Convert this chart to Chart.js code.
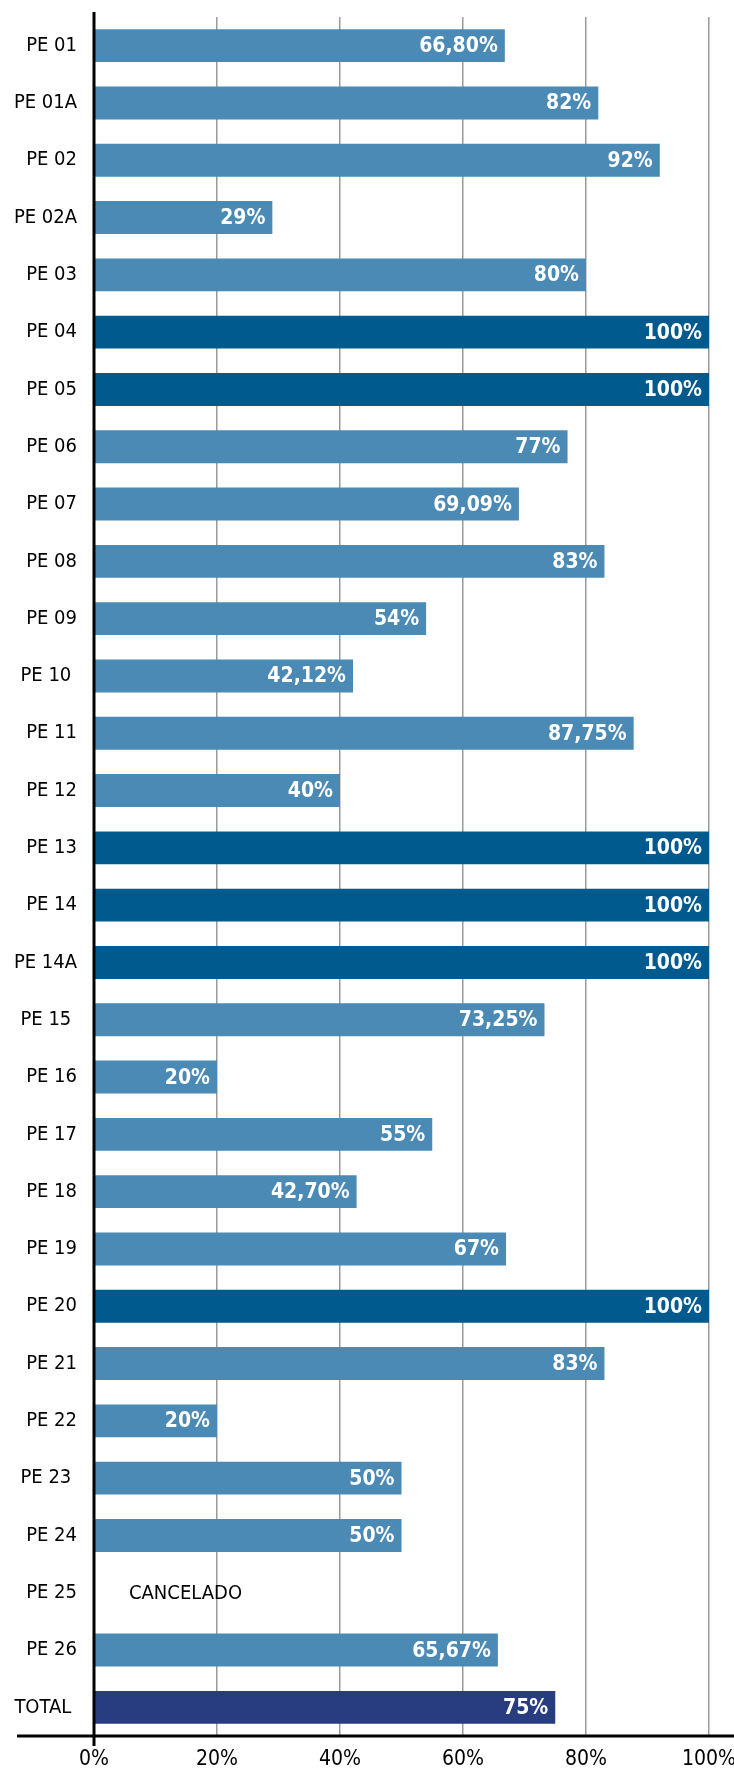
<!DOCTYPE html>
<html>
<head>
<meta charset="utf-8">
<script src="https://cdn.jsdelivr.net/npm/chart.js@4/dist/chart.umd.min.js"></script>
<style>
  html, body { margin: 0; padding: 0; background: #fff; }
  #wrap { position: relative; width: 734px; height: 1771px; }
</style>
</head>
<body>
<div id="wrap"><canvas id="chart"></canvas></div>
<script>
const categories = [
  "PE 01", "PE 01A", "PE 02", "PE 02A", "PE 03", "PE 04", "PE 05", "PE 06",
  "PE 07", "PE 08", "PE 09", "PE 10 ", "PE 11", "PE 12", "PE 13", "PE 14",
  "PE 14A", "PE 15 ", "PE 16", "PE 17", "PE 18", "PE 19", "PE 20", "PE 21",
  "PE 22", "PE 23 ", "PE 24", "PE 25", "PE 26", "TOTAL "
];
const progress = [
  66.8, 82, 92, 29, 80, 100, 100, 77,
  69.09, 83, 54, 42.12, 87.75, 40, 100, 100,
  100, 73.25, 20, 55, 42.7, 67, 100, 83,
  20, 50, 50, null, 65.67, 75
];
const xTicks = [0, 20, 40, 60, 80, 100];
const cancelledLabel = "CANCELADO";

const FONT = '"DejaVu Sans Condensed", "Liberation Sans Narrow", sans-serif';

function barColor(i) {
  if (categories[i].trim() === "TOTAL") return "#283c80";
  if (progress[i] === 100) return "#005a8e";
  return "#4a8ab5";
}

function formatPct(v) {
  return Number.isInteger(v) ? v + "%" : v.toFixed(2).replace(".", ",") + "%";
}

const overlay = {
  id: "overlay",
  afterDatasetsDraw(chart) {
    const ctx = chart.ctx;
    const meta = chart.getDatasetMeta(0);
    const xs = chart.scales.x;
    ctx.save();
    ctx.textBaseline = "middle";
    meta.data.forEach((bar, i) => {
      const v = progress[i];
      if (v == null) {
        ctx.font = "20px " + FONT;
        ctx.fillStyle = "#000";
        ctx.textAlign = "left";
        ctx.fillText(cancelledLabel, xs.getPixelForValue(0) + 35, bar.y + 1);
        return;
      }
      ctx.font = "bold 21px " + FONT;
      ctx.fillStyle = "#fff";
      ctx.textAlign = "right";
      ctx.fillText(formatPct(v), bar.x - 7, bar.y + 1);
    });
    ctx.restore();
  },
  afterDraw(chart) {
    const ctx = chart.ctx;
    const area = chart.chartArea;
    const x0 = chart.scales.x.getPixelForValue(0);
    ctx.save();
    ctx.strokeStyle = "#000";
    ctx.lineWidth = 3;
    ctx.beginPath();
    ctx.moveTo(17, area.bottom);
    ctx.lineTo(chart.width, area.bottom);
    ctx.moveTo(x0, area.top - 5);
    ctx.lineTo(x0, area.bottom + 10);
    ctx.stroke();
    ctx.restore();
  }
};

new Chart(document.getElementById("chart"), {
  type: "bar",
  data: {
    labels: categories,
    datasets: [{
      data: progress,
      backgroundColor: categories.map((c, i) => barColor(i)),
      borderWidth: 0,
      categoryPercentage: 1,
      barPercentage: 0.575
    }]
  },
  options: {
    indexAxis: "y",
    responsive: true,
    maintainAspectRatio: false,
    animation: false,
    layout: { padding: { top: 17, right: 25, left: 0, bottom: 0 } },
    plugins: {
      legend: { display: false },
      tooltip: { enabled: false }
    },
    scales: {
      x: {
        min: 0,
        max: 100,
        afterBuildTicks(scale) {
          scale.ticks = xTicks.map((v) => ({ value: v }));
        },
        afterFit(scale) {
          scale.height = 35;
          scale.paddingLeft = 0;
          scale.paddingRight = 0;
        },
        border: { display: false },
        grid: {
          drawTicks: false,
          color: (c) => (c.tick && c.tick.value === 0 ? "rgba(0,0,0,0)" : "#9a9a9a"),
          lineWidth: 1.5
        },
        ticks: {
          padding: 11,
          color: "#000",
          font: { family: FONT, size: 21 },
          callback: (v) => v + "%"
        }
      },
      y: {
        afterFit(scale) {
          scale.width = 94;
          scale.paddingTop = 0;
          scale.paddingBottom = 0;
        },
        border: { display: false },
        grid: { display: false, drawTicks: false },
        ticks: {
          padding: 17,
          color: "#000",
          font: { family: FONT, size: 20 }
        }
      }
    }
  },
  plugins: [overlay]
});
</script>
</body>
</html>
